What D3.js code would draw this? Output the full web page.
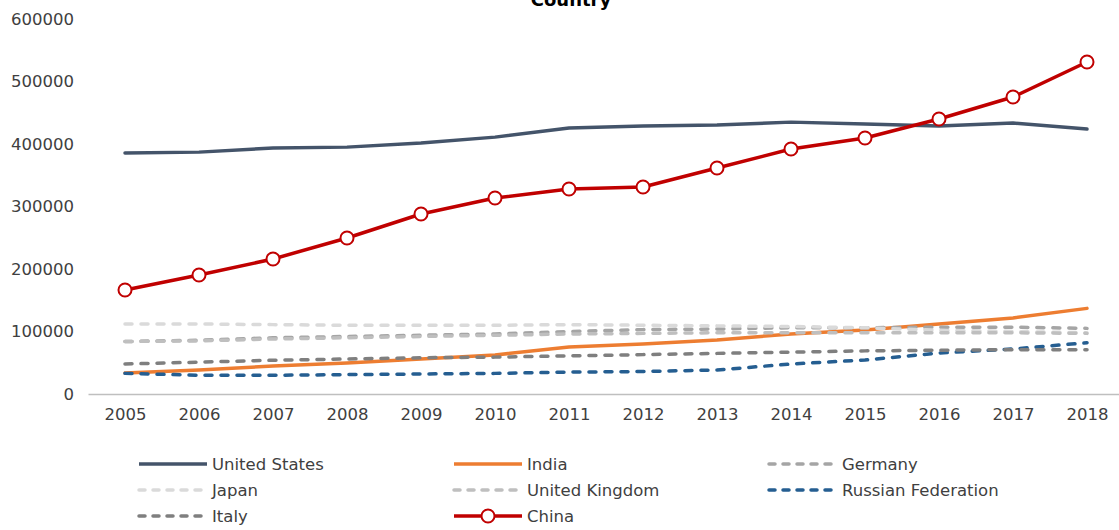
<!DOCTYPE html>
<html>
<head>
<meta charset="utf-8">
<script src="https://cdn.jsdelivr.net/npm/d3@7"></script>
<style>
  body { margin: 0; background: #fff; }
  svg { display: block; font-family: "DejaVu Sans", sans-serif; }
</style>
</head>
<body>
<div id="chart"></div>
<script>
const years = [2005, 2006, 2007, 2008, 2009, 2010, 2011, 2012, 2013, 2014, 2015, 2016, 2017, 2018];
const yTicks = [0, 100000, 200000, 300000, 400000, 500000, 600000];

const unitedStates = [385600, 387000, 393600, 395000, 401600, 411000, 425600, 428800, 430400, 435000, 432000, 428800, 433600, 424000];
const india = [33600, 38400, 44800, 49600, 56000, 62400, 75200, 80000, 86400, 96000, 102400, 112000, 121600, 137000];
const germany = [84000, 86000, 90000, 92000, 94000, 96000, 100000, 103000, 104000, 106000, 106000, 107000, 107000, 105000];
const japan = [112000, 112000, 111000, 110000, 110000, 110000, 111000, 110000, 109000, 108000, 106000, 102000, 100000, 98000];
const unitedKingdom = [84000, 85000, 88000, 90000, 92000, 94000, 96000, 97000, 98000, 98000, 98000, 98000, 98000, 97000];
const russia = [33000, 30000, 30000, 31000, 32000, 33000, 35000, 36000, 38400, 48000, 54400, 65600, 72000, 82000];
const italy = [48000, 51000, 54000, 56000, 58000, 59000, 61000, 63000, 65000, 67000, 69000, 70000, 71000, 71000];
const china = [166400, 190400, 216000, 249600, 288000, 313600, 328000, 331200, 361600, 392000, 409600, 440000, 475200, 531200];

const series = [
  {name: "United States", values: unitedStates, color: "#44546a", dash: null},
  {name: "India", values: india, color: "#ed7d31", dash: null},
  {name: "Germany", values: germany, color: "#a5a5a5", dash: "7 9"},
  {name: "Japan", values: japan, color: "#dadada", dash: "7 9"},
  {name: "United Kingdom", values: unitedKingdom, color: "#bfbfbf", dash: "7 9"},
  {name: "Russian Federation", values: russia, color: "#255e91", dash: "7 9"},
  {name: "Italy", values: italy, color: "#7f7f7f", dash: "7 9"},
  {name: "China", values: china, color: "#c00000", dash: null, marker: true}
];

const width = 1119, height = 530;

const svg = d3.select("#chart").append("svg")
  .attr("width", width)
  .attr("height", height);

const x = d3.scalePoint()
  .domain(years)
  .range([88, 1124])
  .padding(0.5);

const y = d3.scaleLinear()
  .domain([0, 600000])
  .range([394, 19]);

// title (clipped at the top like the original)
svg.append("text")
  .attr("x", 571)
  .attr("y", 6)
  .attr("text-anchor", "middle")
  .attr("font-weight", "bold")
  .attr("font-size", 18)
  .attr("fill", "#000")
  .text("Country");

// y axis labels
const yAxis = svg.append("g")
  .attr("transform", "translate(74,0)")
  .call(d3.axisLeft(y).tickValues(yTicks).tickSize(0).tickPadding(0).tickFormat(d3.format("d")));
yAxis.select(".domain").remove();
yAxis.selectAll("text")
  .attr("font-size", 16.5)
  .attr("font-family", "DejaVu Sans, sans-serif")
  .attr("fill", "#404040");

// x axis
const xAxis = svg.append("g")
  .attr("transform", "translate(0,394)")
  .call(d3.axisBottom(x).tickSize(0).tickPadding(14).tickFormat(d3.format("d")));
xAxis.select(".domain")
  .attr("stroke", "#bfbfbf")
  .attr("stroke-width", 1.5);
xAxis.selectAll("text")
  .attr("font-size", 16.5)
  .attr("font-family", "DejaVu Sans, sans-serif")
  .attr("fill", "#404040");

const line = d3.line()
  .x((d, i) => x(years[i]))
  .y(d => y(d));

svg.append("g")
  .attr("fill", "none")
  .selectAll("path")
  .data(series)
  .join("path")
  .attr("d", d => line(d.values))
  .attr("stroke", d => d.color)
  .attr("stroke-width", d => d.dash ? 3.5 : 3.5)
  .attr("stroke-dasharray", d => d.dash)
  .attr("stroke-linecap", "round")
  .attr("stroke-linejoin", "round");

const chinaSeries = series.find(s => s.marker);
svg.append("g")
  .selectAll("circle")
  .data(chinaSeries.values)
  .join("circle")
  .attr("cx", (d, i) => x(years[i]))
  .attr("cy", d => y(d))
  .attr("r", 6.5)
  .attr("fill", "#fff")
  .attr("stroke", chinaSeries.color)
  .attr("stroke-width", 2);

// legend
const legend = svg.append("g")
  .selectAll("g")
  .data(series)
  .join("g")
  .attr("transform", (d, i) => `translate(${137 + (i % 3) * 315},${464 + Math.floor(i / 3) * 26})`);

legend.append("line")
  .attr("x1", 2)
  .attr("x2", 70)
  .attr("stroke", d => d.color)
  .attr("stroke-width", 3.5)
  .attr("stroke-dasharray", d => d.dash ? "6 8" : null)
  .attr("stroke-linecap", d => d.dash ? "round" : "butt");

legend.filter(d => d.marker).append("circle")
  .attr("cx", 36)
  .attr("r", 6.5)
  .attr("fill", "#fff")
  .attr("stroke", d => d.color)
  .attr("stroke-width", 2);

legend.append("text")
  .attr("x", 75)
  .attr("dy", "0.35em")
  .attr("font-size", 16.5)
  .attr("fill", "#404040")
  .text(d => d.name);
</script>
</body>
</html>
